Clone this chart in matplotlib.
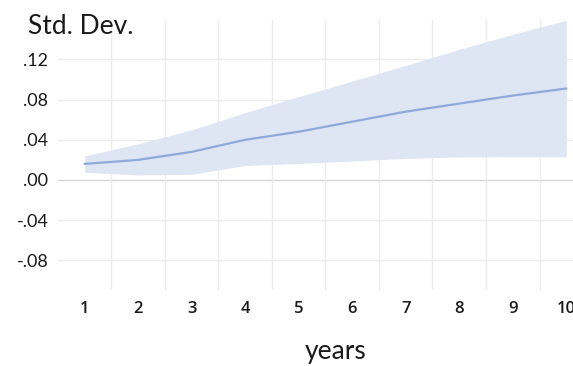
import matplotlib
matplotlib.use("Agg")
import matplotlib.pyplot as plt

# Impulse response of the standard deviation over a 10-year horizon
years = [1, 2, 3, 4, 5, 6, 7, 8, 9, 10]
estimate = [0.016, 0.020, 0.028, 0.040, 0.048, 0.058, 0.068, 0.076, 0.084, 0.091]
upper = [0.024, 0.036, 0.050, 0.067, 0.083, 0.0985, 0.114, 0.130, 0.145, 0.159]
lower = [0.0077, 0.005, 0.0057, 0.0144, 0.0164, 0.0189, 0.0214, 0.0229, 0.0232, 0.0232]

y_ticks = [-0.08, -0.04, 0.0, 0.04, 0.08, 0.12]
y_tick_labels = ["-.08", "-.04", ".00", ".04", ".08", ".12"]
x_tick_labels = [str(y) for y in years]

plt.rcParams["font.family"] = ["Lato", "DejaVu Sans"]

fig = plt.figure(figsize=(5.73, 3.66), dpi=100)
ax = fig.add_axes([58 / 573, 76 / 366, 535 / 573, 270 / 366])

ax.fill_between(years, lower, upper, color="#dfe6f3", linewidth=0, zorder=2)
ax.plot(years, estimate, color="#8eaadb", linewidth=1.6, zorder=3)

ax.set_xlim(0.5, 10.5)
ax.set_ylim(-0.1095, 0.1592)

# horizontal grid, with a stronger zero line
for v in y_ticks:
    ax.axhline(v, color="#d6d6d6" if v == 0 else "#ececec",
               linewidth=1.0, zorder=1)
# vertical grid between the year positions
for xv in [y + 0.5 for y in years]:
    ax.axvline(xv, color="#ececec", linewidth=1.0, zorder=1)

ax.set_yticks(y_ticks)
ax.set_yticklabels(y_tick_labels, fontsize=13, color="#1a1a1a")
ax.set_xticks(years)
ax.set_xticklabels(x_tick_labels, fontsize=12, fontweight="semibold",
                   family=["Open Sans", "DejaVu Sans"], color="#1a1a1a")
ax.tick_params(axis="both", length=0)
ax.tick_params(axis="y", pad=7)
ax.tick_params(axis="x", pad=8)

for s in ax.spines.values():
    s.set_visible(False)

fig.text(28 / 573, 1 - 26 / 366, "Std. Dev.", fontsize=19,
         color="#1a1a1a", ha="left", va="center")
fig.text(336 / 573, 1 - 352 / 366, "years", fontsize=19,
         color="#1a1a1a", ha="center", va="center")

fig.savefig("out.png", dpi=100)
